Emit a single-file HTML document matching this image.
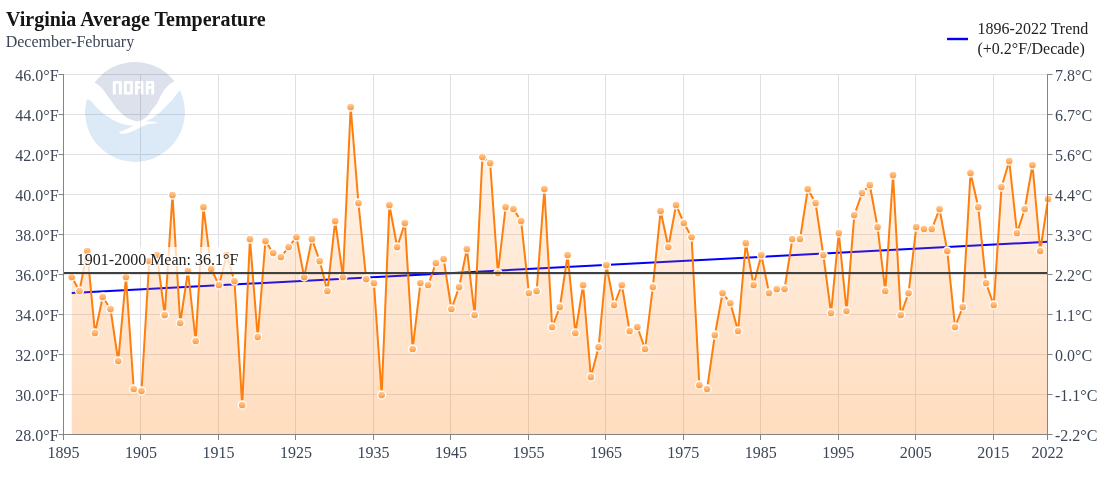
<!DOCTYPE html>
<html><head><meta charset="utf-8"><title>Virginia Average Temperature</title>
<style>
html,body{margin:0;padding:0;background:#fff;}
body{width:1110px;height:500px;overflow:hidden;font-family:"Liberation Serif",serif;}
svg{display:block;font-family:"Liberation Serif",serif;will-change:transform;}
</style></head><body>
<svg width="1110" height="500" viewBox="0 0 1110 500">
<defs>
<linearGradient id="ag" x1="0" y1="74.5" x2="0" y2="434.5" gradientUnits="userSpaceOnUse">
<stop offset="0" stop-color="#ff7f0e" stop-opacity="0.05"/>
<stop offset="1" stop-color="#ff7f0e" stop-opacity="0.27"/>
</linearGradient>
<linearGradient id="mg" x1="0" y1="0" x2="0" y2="1">
<stop offset="0" stop-color="#ffd3a8"/>
<stop offset="1" stop-color="#ff9230"/>
</linearGradient>
<clipPath id="lc"><circle cx="135" cy="112" r="50"/></clipPath>
</defs>
<rect width="1110" height="500" fill="#fff"/>
<!-- grid -->
<g stroke="#e0e0e2" stroke-width="1" fill="none"><path d="M63.5 74.5 H1047.5"/><path d="M63.5 114.5 H1047.5"/><path d="M63.5 154.5 H1047.5"/><path d="M63.5 194.5 H1047.5"/><path d="M63.5 234.5 H1047.5"/><path d="M63.5 274.5 H1047.5"/><path d="M63.5 314.5 H1047.5"/><path d="M63.5 354.5 H1047.5"/><path d="M63.5 394.5 H1047.5"/><path d="M63.5 434.5 H1047.5"/><path d="M140.5 74.5 V434.5"/><path d="M218.5 74.5 V434.5"/><path d="M295.5 74.5 V434.5"/><path d="M373.5 74.5 V434.5"/><path d="M450.5 74.5 V434.5"/><path d="M528.5 74.5 V434.5"/><path d="M605.5 74.5 V434.5"/><path d="M683.5 74.5 V434.5"/><path d="M760.5 74.5 V434.5"/><path d="M838.5 74.5 V434.5"/><path d="M915.5 74.5 V434.5"/><path d="M993.5 74.5 V434.5"/></g>
<g opacity="0.15" clip-path="url(#lc)">
<circle cx="135" cy="112" r="50" fill="#0f73c3"/>
<path d="M80 55 L80 97 C81.07 97.30 84.53 98.10 86.40 98.80C88.27 99.50 89.60 99.87 91.20 101.20C92.80 102.53 94.45 105.17 96.00 106.80C97.55 108.43 99.00 109.67 100.50 111.00C102.00 112.33 102.92 113.30 105.00 114.80C107.08 116.30 110.33 118.53 113.00 120.00C115.67 121.47 118.33 122.70 121.00 123.60C123.67 124.50 126.87 125.10 129.00 125.40C131.13 125.70 133.00 125.40 133.80 125.40C133.00 125.83 130.87 127.10 129.00 128.00C127.13 128.90 124.27 130.07 122.60 130.80C120.93 131.53 119.60 132.13 119.00 132.40C119.33 132.60 119.60 133.47 121.00 133.60C122.40 133.73 125.27 133.67 127.40 133.20C129.53 132.73 131.67 131.73 133.80 130.80C135.93 129.87 138.07 128.60 140.20 127.60C142.33 126.60 144.47 125.47 146.60 124.80C148.73 124.13 151.27 123.87 153.00 123.60C154.73 123.33 156.33 123.27 157.00 123.20L157 122.4 C156.33 122.27 154.33 121.77 153.00 121.60C151.67 121.43 150.20 121.43 149.00 121.40C147.80 121.37 146.33 121.40 145.80 121.40C146.47 121.10 148.33 120.43 149.80 119.60C151.27 118.77 153.00 117.53 154.60 116.40C156.20 115.27 157.80 114.20 159.40 112.80C161.00 111.40 162.60 109.60 164.20 108.00C165.80 106.40 167.67 104.53 169.00 103.20C170.33 101.87 171.03 101.37 172.20 100.00C173.37 98.63 174.70 96.67 176.00 95.00C177.30 93.33 177.67 92.83 180.00 90.00C182.33 87.17 188.33 80.00 190.00 78.00L190 55 Z" fill="#fff"/>
<path d="M80 55 L80 70 C82.40 72.07 91.33 79.90 94.40 82.40C97.47 84.90 96.93 83.77 98.40 85.00C99.87 86.23 101.73 88.07 103.20 89.80C104.67 91.53 105.93 93.67 107.20 95.40C108.47 97.13 109.73 98.73 110.80 100.20C111.87 101.67 112.57 102.77 113.60 104.20C114.63 105.63 115.50 107.10 117.00 108.80C118.50 110.50 120.60 112.73 122.60 114.40C124.60 116.07 127.00 117.73 129.00 118.80C131.00 119.87 133.00 120.43 134.60 120.80C136.20 121.17 137.13 121.27 138.60 121.00C140.07 120.73 141.80 120.17 143.40 119.20C145.00 118.23 146.73 116.80 148.20 115.20C149.67 113.60 150.73 111.57 152.20 109.60C153.67 107.63 155.80 105.23 157.00 103.40C158.20 101.57 158.53 100.33 159.40 98.60C160.27 96.87 161.27 94.60 162.20 93.00C163.13 91.40 164.00 90.27 165.00 89.00C166.00 87.73 167.13 86.40 168.20 85.40C169.27 84.40 170.40 83.67 171.40 83.00C172.40 82.33 171.10 82.90 174.20 81.40C177.30 79.90 187.37 75.23 190.00 74.00L190 55 Z" fill="#1e3679"/>
<path d="M112.8 94.5 V82.3 Q112.8 81.0 114.1 81.0 H120.5 Q121.8 81.0 121.8 82.3 V94.5 H118.8 V83.7 H115.8 V94.5 ZM123.9 93.2 V82.3 Q123.9 81.0 125.2 81.0 H131.6 Q132.9 81.0 132.9 82.3 V93.2 Q132.9 94.5 131.6 94.5 H125.2 Q123.9 94.5 123.9 93.2 Z M126.9 83.7 V91.8 H129.9 V83.7 ZM135.0 94.5 V82.3 Q135.0 81.0 136.3 81.0 H142.1 Q143.4 81.0 143.4 82.3 V94.5 H140.5 V88.8 H137.9 V94.5 Z M137.9 83.7 V86.1 H140.5 V83.7 ZM145.8 94.5 V82.3 Q145.8 81.0 147.10000000000002 81.0 H152.9 Q154.20000000000002 81.0 154.20000000000002 82.3 V94.5 H151.3 V88.8 H148.70000000000002 V94.5 Z M148.70000000000002 83.7 V86.1 H151.3 V83.7 Z" fill="#fff" fill-rule="evenodd"/>
</g>
<!-- trend -->
<path d="M71.75 293.0 L1048.00 241.75" stroke="#0000ff" stroke-width="2" fill="none"/>
<!-- area -->
<path d="M71.75 277.00 L79.50 291.00 L87.24 251.00 L94.99 333.00 L102.74 297.00 L110.49 309.00 L118.24 361.00 L125.98 277.00 L133.73 389.00 L141.48 391.00 L149.23 261.00 L156.98 255.00 L164.72 315.00 L172.47 195.00 L180.22 323.00 L187.97 271.00 L195.72 341.00 L203.46 207.00 L211.21 269.00 L218.96 285.00 L226.71 255.00 L234.46 281.00 L242.20 405.00 L249.95 239.00 L257.70 337.00 L265.45 241.00 L273.20 253.00 L280.94 257.00 L288.69 247.00 L296.44 237.00 L304.19 277.00 L311.94 239.00 L319.69 261.00 L327.43 291.00 L335.18 221.00 L342.93 277.00 L350.68 107.00 L358.43 203.00 L366.17 279.00 L373.92 283.00 L381.67 395.00 L389.42 205.00 L397.17 247.00 L404.91 223.00 L412.66 349.00 L420.41 283.00 L428.16 285.00 L435.91 263.00 L443.65 259.00 L451.40 309.00 L459.15 287.00 L466.90 249.00 L474.65 315.00 L482.39 157.00 L490.14 163.00 L497.89 273.00 L505.64 207.00 L513.39 209.00 L521.13 221.00 L528.88 293.00 L536.63 291.00 L544.38 189.00 L552.13 327.00 L559.87 307.00 L567.62 255.00 L575.37 333.00 L583.12 285.00 L590.87 377.00 L598.61 347.00 L606.36 265.00 L614.11 305.00 L621.86 285.00 L629.61 331.00 L637.35 327.00 L645.10 349.00 L652.85 287.00 L660.60 211.00 L668.35 247.00 L676.09 205.00 L683.84 223.00 L691.59 237.00 L699.34 385.00 L707.09 389.00 L714.83 335.00 L722.58 293.00 L730.33 303.00 L738.08 331.00 L745.83 243.00 L753.57 285.00 L761.32 255.00 L769.07 293.00 L776.82 289.00 L784.57 289.00 L792.31 239.00 L800.06 239.00 L807.81 189.00 L815.56 203.00 L823.31 255.00 L831.06 313.00 L838.80 233.00 L846.55 311.00 L854.30 215.00 L862.05 193.00 L869.80 185.00 L877.54 227.00 L885.29 291.00 L893.04 175.00 L900.79 315.00 L908.54 293.00 L916.28 227.00 L924.03 229.00 L931.78 229.00 L939.53 209.00 L947.28 251.00 L955.02 327.00 L962.77 307.00 L970.52 173.00 L978.27 207.00 L986.02 283.00 L993.76 305.00 L1001.51 187.00 L1009.26 161.00 L1017.01 233.00 L1024.76 209.00 L1032.50 165.00 L1040.25 251.00 L1048.00 199.00 L1048.00 434.5 L71.75 434.5 Z" fill="url(#ag)"/>
<path d="M71.75 277.00 L79.50 291.00 L87.24 251.00 L94.99 333.00 L102.74 297.00 L110.49 309.00 L118.24 361.00 L125.98 277.00 L133.73 389.00 L141.48 391.00 L149.23 261.00 L156.98 255.00 L164.72 315.00 L172.47 195.00 L180.22 323.00 L187.97 271.00 L195.72 341.00 L203.46 207.00 L211.21 269.00 L218.96 285.00 L226.71 255.00 L234.46 281.00 L242.20 405.00 L249.95 239.00 L257.70 337.00 L265.45 241.00 L273.20 253.00 L280.94 257.00 L288.69 247.00 L296.44 237.00 L304.19 277.00 L311.94 239.00 L319.69 261.00 L327.43 291.00 L335.18 221.00 L342.93 277.00 L350.68 107.00 L358.43 203.00 L366.17 279.00 L373.92 283.00 L381.67 395.00 L389.42 205.00 L397.17 247.00 L404.91 223.00 L412.66 349.00 L420.41 283.00 L428.16 285.00 L435.91 263.00 L443.65 259.00 L451.40 309.00 L459.15 287.00 L466.90 249.00 L474.65 315.00 L482.39 157.00 L490.14 163.00 L497.89 273.00 L505.64 207.00 L513.39 209.00 L521.13 221.00 L528.88 293.00 L536.63 291.00 L544.38 189.00 L552.13 327.00 L559.87 307.00 L567.62 255.00 L575.37 333.00 L583.12 285.00 L590.87 377.00 L598.61 347.00 L606.36 265.00 L614.11 305.00 L621.86 285.00 L629.61 331.00 L637.35 327.00 L645.10 349.00 L652.85 287.00 L660.60 211.00 L668.35 247.00 L676.09 205.00 L683.84 223.00 L691.59 237.00 L699.34 385.00 L707.09 389.00 L714.83 335.00 L722.58 293.00 L730.33 303.00 L738.08 331.00 L745.83 243.00 L753.57 285.00 L761.32 255.00 L769.07 293.00 L776.82 289.00 L784.57 289.00 L792.31 239.00 L800.06 239.00 L807.81 189.00 L815.56 203.00 L823.31 255.00 L831.06 313.00 L838.80 233.00 L846.55 311.00 L854.30 215.00 L862.05 193.00 L869.80 185.00 L877.54 227.00 L885.29 291.00 L893.04 175.00 L900.79 315.00 L908.54 293.00 L916.28 227.00 L924.03 229.00 L931.78 229.00 L939.53 209.00 L947.28 251.00 L955.02 327.00 L962.77 307.00 L970.52 173.00 L978.27 207.00 L986.02 283.00 L993.76 305.00 L1001.51 187.00 L1009.26 161.00 L1017.01 233.00 L1024.76 209.00 L1032.50 165.00 L1040.25 251.00 L1048.00 199.00" fill="none" stroke="#ff7f0e" stroke-width="2" stroke-linejoin="round" stroke-linecap="round"/>
<rect x="75" y="247" width="165" height="25" fill="#fff" fill-opacity="0.72"/>
<g fill="url(#mg)" stroke="#fff" stroke-width="1.3"><circle cx="71.75" cy="277.00" r="4"/><circle cx="79.50" cy="291.00" r="4"/><circle cx="87.24" cy="251.00" r="4"/><circle cx="94.99" cy="333.00" r="4"/><circle cx="102.74" cy="297.00" r="4"/><circle cx="110.49" cy="309.00" r="4"/><circle cx="118.24" cy="361.00" r="4"/><circle cx="125.98" cy="277.00" r="4"/><circle cx="133.73" cy="389.00" r="4"/><circle cx="141.48" cy="391.00" r="4"/><circle cx="149.23" cy="261.00" r="4"/><circle cx="156.98" cy="255.00" r="4"/><circle cx="164.72" cy="315.00" r="4"/><circle cx="172.47" cy="195.00" r="4"/><circle cx="180.22" cy="323.00" r="4"/><circle cx="187.97" cy="271.00" r="4"/><circle cx="195.72" cy="341.00" r="4"/><circle cx="203.46" cy="207.00" r="4"/><circle cx="211.21" cy="269.00" r="4"/><circle cx="218.96" cy="285.00" r="4"/><circle cx="226.71" cy="255.00" r="4"/><circle cx="234.46" cy="281.00" r="4"/><circle cx="242.20" cy="405.00" r="4"/><circle cx="249.95" cy="239.00" r="4"/><circle cx="257.70" cy="337.00" r="4"/><circle cx="265.45" cy="241.00" r="4"/><circle cx="273.20" cy="253.00" r="4"/><circle cx="280.94" cy="257.00" r="4"/><circle cx="288.69" cy="247.00" r="4"/><circle cx="296.44" cy="237.00" r="4"/><circle cx="304.19" cy="277.00" r="4"/><circle cx="311.94" cy="239.00" r="4"/><circle cx="319.69" cy="261.00" r="4"/><circle cx="327.43" cy="291.00" r="4"/><circle cx="335.18" cy="221.00" r="4"/><circle cx="342.93" cy="277.00" r="4"/><circle cx="350.68" cy="107.00" r="4"/><circle cx="358.43" cy="203.00" r="4"/><circle cx="366.17" cy="279.00" r="4"/><circle cx="373.92" cy="283.00" r="4"/><circle cx="381.67" cy="395.00" r="4"/><circle cx="389.42" cy="205.00" r="4"/><circle cx="397.17" cy="247.00" r="4"/><circle cx="404.91" cy="223.00" r="4"/><circle cx="412.66" cy="349.00" r="4"/><circle cx="420.41" cy="283.00" r="4"/><circle cx="428.16" cy="285.00" r="4"/><circle cx="435.91" cy="263.00" r="4"/><circle cx="443.65" cy="259.00" r="4"/><circle cx="451.40" cy="309.00" r="4"/><circle cx="459.15" cy="287.00" r="4"/><circle cx="466.90" cy="249.00" r="4"/><circle cx="474.65" cy="315.00" r="4"/><circle cx="482.39" cy="157.00" r="4"/><circle cx="490.14" cy="163.00" r="4"/><circle cx="497.89" cy="273.00" r="4"/><circle cx="505.64" cy="207.00" r="4"/><circle cx="513.39" cy="209.00" r="4"/><circle cx="521.13" cy="221.00" r="4"/><circle cx="528.88" cy="293.00" r="4"/><circle cx="536.63" cy="291.00" r="4"/><circle cx="544.38" cy="189.00" r="4"/><circle cx="552.13" cy="327.00" r="4"/><circle cx="559.87" cy="307.00" r="4"/><circle cx="567.62" cy="255.00" r="4"/><circle cx="575.37" cy="333.00" r="4"/><circle cx="583.12" cy="285.00" r="4"/><circle cx="590.87" cy="377.00" r="4"/><circle cx="598.61" cy="347.00" r="4"/><circle cx="606.36" cy="265.00" r="4"/><circle cx="614.11" cy="305.00" r="4"/><circle cx="621.86" cy="285.00" r="4"/><circle cx="629.61" cy="331.00" r="4"/><circle cx="637.35" cy="327.00" r="4"/><circle cx="645.10" cy="349.00" r="4"/><circle cx="652.85" cy="287.00" r="4"/><circle cx="660.60" cy="211.00" r="4"/><circle cx="668.35" cy="247.00" r="4"/><circle cx="676.09" cy="205.00" r="4"/><circle cx="683.84" cy="223.00" r="4"/><circle cx="691.59" cy="237.00" r="4"/><circle cx="699.34" cy="385.00" r="4"/><circle cx="707.09" cy="389.00" r="4"/><circle cx="714.83" cy="335.00" r="4"/><circle cx="722.58" cy="293.00" r="4"/><circle cx="730.33" cy="303.00" r="4"/><circle cx="738.08" cy="331.00" r="4"/><circle cx="745.83" cy="243.00" r="4"/><circle cx="753.57" cy="285.00" r="4"/><circle cx="761.32" cy="255.00" r="4"/><circle cx="769.07" cy="293.00" r="4"/><circle cx="776.82" cy="289.00" r="4"/><circle cx="784.57" cy="289.00" r="4"/><circle cx="792.31" cy="239.00" r="4"/><circle cx="800.06" cy="239.00" r="4"/><circle cx="807.81" cy="189.00" r="4"/><circle cx="815.56" cy="203.00" r="4"/><circle cx="823.31" cy="255.00" r="4"/><circle cx="831.06" cy="313.00" r="4"/><circle cx="838.80" cy="233.00" r="4"/><circle cx="846.55" cy="311.00" r="4"/><circle cx="854.30" cy="215.00" r="4"/><circle cx="862.05" cy="193.00" r="4"/><circle cx="869.80" cy="185.00" r="4"/><circle cx="877.54" cy="227.00" r="4"/><circle cx="885.29" cy="291.00" r="4"/><circle cx="893.04" cy="175.00" r="4"/><circle cx="900.79" cy="315.00" r="4"/><circle cx="908.54" cy="293.00" r="4"/><circle cx="916.28" cy="227.00" r="4"/><circle cx="924.03" cy="229.00" r="4"/><circle cx="931.78" cy="229.00" r="4"/><circle cx="939.53" cy="209.00" r="4"/><circle cx="947.28" cy="251.00" r="4"/><circle cx="955.02" cy="327.00" r="4"/><circle cx="962.77" cy="307.00" r="4"/><circle cx="970.52" cy="173.00" r="4"/><circle cx="978.27" cy="207.00" r="4"/><circle cx="986.02" cy="283.00" r="4"/><circle cx="993.76" cy="305.00" r="4"/><circle cx="1001.51" cy="187.00" r="4"/><circle cx="1009.26" cy="161.00" r="4"/><circle cx="1017.01" cy="233.00" r="4"/><circle cx="1024.76" cy="209.00" r="4"/><circle cx="1032.50" cy="165.00" r="4"/><circle cx="1040.25" cy="251.00" r="4"/><circle cx="1048.00" cy="199.00" r="4"/></g>
<!-- mean -->
<rect x="63.5" y="272" width="984.0" height="2" fill="#404040"/>
<text x="76.8" y="265" font-size="16" fill="#222" stroke="#fff" stroke-width="3" stroke-opacity="0.55" stroke-linejoin="round" paint-order="stroke">1901-2000 Mean: 36.1°F</text>
<!-- axes -->
<g stroke="#848484" stroke-width="1" fill="none">
<path d="M63.5 74.0 V434.5"/><path d="M1047.5 74.0 V434.5"/><path d="M63.0 434.5 H1048.0"/>
<path d="M58.5 74.5 H63.5"/><path d="M1047.5 74.5 H1052.5"/><path d="M58.5 114.5 H63.5"/><path d="M1047.5 114.5 H1052.5"/><path d="M58.5 154.5 H63.5"/><path d="M1047.5 154.5 H1052.5"/><path d="M58.5 194.5 H63.5"/><path d="M1047.5 194.5 H1052.5"/><path d="M58.5 234.5 H63.5"/><path d="M1047.5 234.5 H1052.5"/><path d="M58.5 274.5 H63.5"/><path d="M1047.5 274.5 H1052.5"/><path d="M58.5 314.5 H63.5"/><path d="M1047.5 314.5 H1052.5"/><path d="M58.5 354.5 H63.5"/><path d="M1047.5 354.5 H1052.5"/><path d="M58.5 394.5 H63.5"/><path d="M1047.5 394.5 H1052.5"/><path d="M58.5 434.5 H63.5"/><path d="M1047.5 434.5 H1052.5"/><path d="M63.5 434.5 V440.0"/><path d="M140.5 434.5 V440.0"/><path d="M218.5 434.5 V440.0"/><path d="M295.5 434.5 V440.0"/><path d="M373.5 434.5 V440.0"/><path d="M450.5 434.5 V440.0"/><path d="M528.5 434.5 V440.0"/><path d="M605.5 434.5 V440.0"/><path d="M683.5 434.5 V440.0"/><path d="M760.5 434.5 V440.0"/><path d="M838.5 434.5 V440.0"/><path d="M915.5 434.5 V440.0"/><path d="M993.5 434.5 V440.0"/><path d="M1047.5 434.5 V440.0"/></g>
<g font-size="16" fill="#3c4656"><text x="58.6" y="80.9" text-anchor="end">46.0°F</text><text x="1055" y="80.9">7.8°C</text><text x="58.6" y="120.9" text-anchor="end">44.0°F</text><text x="1055" y="120.9">6.7°C</text><text x="58.6" y="160.9" text-anchor="end">42.0°F</text><text x="1055" y="160.9">5.6°C</text><text x="58.6" y="200.9" text-anchor="end">40.0°F</text><text x="1055" y="200.9">4.4°C</text><text x="58.6" y="240.9" text-anchor="end">38.0°F</text><text x="1055" y="240.9">3.3°C</text><text x="58.6" y="280.9" text-anchor="end">36.0°F</text><text x="1055" y="280.9">2.2°C</text><text x="58.6" y="320.9" text-anchor="end">34.0°F</text><text x="1055" y="320.9">1.1°C</text><text x="58.6" y="360.9" text-anchor="end">32.0°F</text><text x="1055" y="360.9">0.0°C</text><text x="58.6" y="400.9" text-anchor="end">30.0°F</text><text x="1055" y="400.9">-1.1°C</text><text x="58.6" y="440.9" text-anchor="end">28.0°F</text><text x="1055" y="440.9">-2.2°C</text><text x="63.5" y="458" text-anchor="middle">1895</text><text x="141.0" y="458" text-anchor="middle">1905</text><text x="218.5" y="458" text-anchor="middle">1915</text><text x="295.9" y="458" text-anchor="middle">1925</text><text x="373.4" y="458" text-anchor="middle">1935</text><text x="450.9" y="458" text-anchor="middle">1945</text><text x="528.4" y="458" text-anchor="middle">1955</text><text x="605.9" y="458" text-anchor="middle">1965</text><text x="683.3" y="458" text-anchor="middle">1975</text><text x="760.8" y="458" text-anchor="middle">1985</text><text x="838.3" y="458" text-anchor="middle">1995</text><text x="915.8" y="458" text-anchor="middle">2005</text><text x="993.3" y="458" text-anchor="middle">2015</text><text x="1047.5" y="458" text-anchor="middle">2022</text></g>
<!-- titles -->
<text x="6" y="25.8" font-size="20" font-weight="bold" fill="#151515">Virginia Average Temperature</text>
<text x="5.7" y="46.7" font-size="16" fill="#3c4656">December-February</text>
<!-- legend -->
<path d="M947 39 H968" stroke="#0000ff" stroke-width="2.4"/>
<text x="977.6" y="33.5" font-size="16" fill="#222">1896-2022 Trend</text>
<text x="977.4" y="53.5" font-size="16" fill="#222">(+0.2°F/Decade)</text>
</svg>
</body></html>
